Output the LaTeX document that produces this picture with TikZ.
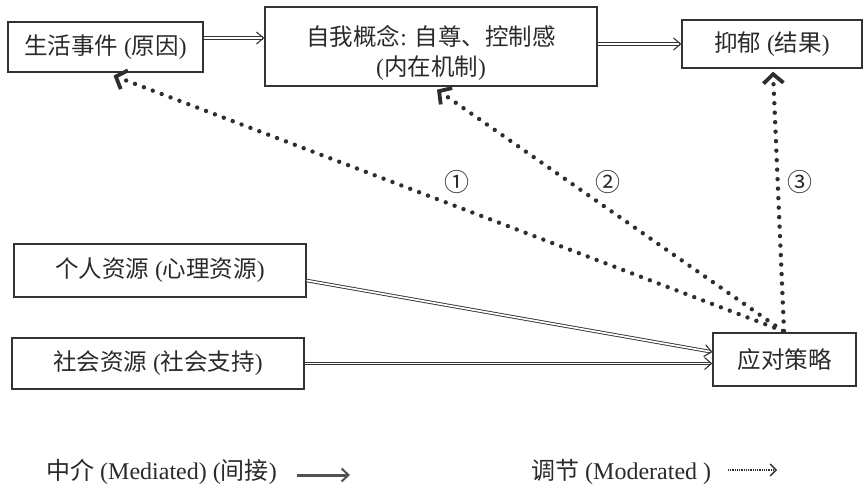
\documentclass[tikz,border=0pt]{standalone}
\usepackage{fontspec}
\setmainfont{Liberation Serif}
\newfontfamily\cjk{Noto Sans CJK SC}
\usetikzlibrary{arrows.meta,calc}
\definecolor{linec}{HTML}{333333}
\definecolor{textc}{HTML}{2A2A2A}
\definecolor{dotc}{HTML}{2E2E2E}
\newcommand{\zh}[1]{{\cjk #1}}
\begin{document}
\begin{tikzpicture}[x=1pt,y=-1pt,
  box/.style={draw=linec, line width=1.3pt, inner sep=0pt, align=center,
    font=\fontsize{23.5}{30}\selectfont, text=textc},
  med/.style={draw=linec, double=white, double distance=1.7pt, line width=0.9pt,
    -{Straight Barb[length=7pt,width=12pt,line width=1.1pt]}},
  mod/.style={draw=dotc, line width=4.4pt, line cap=round, dash pattern=on 0pt off 9.5pt,
    -{Straight Barb[length=9pt,width=20pt,line width=3.8pt]}},
  num/.style={font=\cjk\fontsize{25}{26}\selectfont, text=textc},
  leg/.style={font=\fontsize{24}{26}\selectfont, text=textc, anchor=west, inner sep=0pt}
]
\useasboundingbox (0,0) rectangle (864,489);

\node[box, minimum width=195pt, minimum height=50pt] (A) at (105.5,47) {\zh{生活事件} (\zh{原因})};
\node[box, minimum width=332pt, minimum height=79pt] (B) at (431,46.5) {\rule{0pt}{33pt}\zh{自我概念}: \zh{自尊、控制感}\\(\zh{内在机制})};
\node[box, minimum width=180pt, minimum height=48pt] (C) at (772,44) {\zh{抑郁} (\zh{结果})};
\node[box, minimum width=292pt, minimum height=53pt] (D) at (160,270.5) {\zh{个人资源} (\zh{心理资源})};
\node[box, minimum width=292pt, minimum height=51pt] (E) at (158,363.5) {\zh{社会资源} (\zh{社会支持})};
\node[box, minimum width=143pt, minimum height=53pt] (F) at (784.5,359.5) {\zh{应对策略}};

% mediated arrows
\draw[med] ([yshift=9pt]A.east) -- ([yshift=9pt]A.east -| B.west);
\draw[med] (B.east |- C.west) -- (C.west);
\draw[med] ([yshift=-10pt]D.east) -- ([yshift=7.5pt]F.west);
\draw[med] (E.east) -- (E.east -| F.west);

% moderated arrows
\coordinate (O) at (783,331);
\draw[mod] (O) -- ([xshift=8pt,yshift=-3pt]A.south);
\draw[mod] (O) -- ([xshift=6pt,yshift=-3pt]B.south);
\draw[mod] ([xshift=1pt]O) -- ([xshift=1pt,yshift=-3pt]C.south);

\node[num] (n1) at (457,182) {①};
\node[num] (n2) at (608,182) {②};
\node[num] (n3) at (800,182) {③};

% legend
\node[leg] (L1) at (46,472) {\zh{中介} (Mediated) (\zh{间接})};
\coordinate (L1a) at (297,475);
\coordinate (L1b) at (350,475);
\draw[draw=linec!85, line width=3pt, -{Straight Barb[length=7pt,width=13pt,line width=2pt]}] (L1a) -- (L1b);
\node[leg] (L2) at (531,472) {\zh{调节} (Moderated )};
\coordinate (L2a) at (728,470);
\coordinate (L2b) at (777,470);
\draw[draw=dotc, line width=1.6pt, dash pattern=on 0.7pt off 1.1pt, -{Straight Barb[length=6pt,width=12pt,line width=1.4pt]}] (L2a) -- (L2b);
\end{tikzpicture}
\end{document}
